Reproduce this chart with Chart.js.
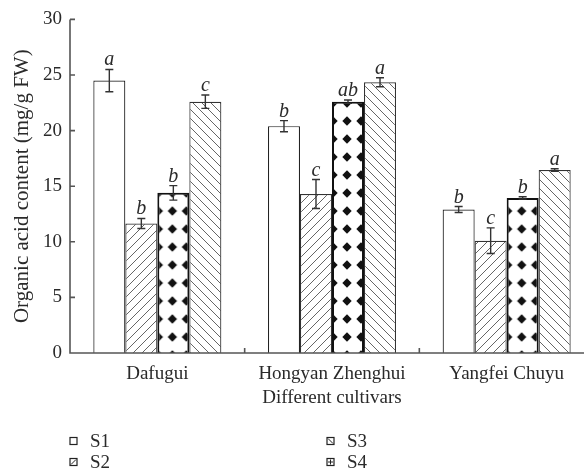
<!DOCTYPE html>
<html>
<head>
<meta charset="utf-8">
<script src="https://cdn.jsdelivr.net/npm/chart.js@4.4.1/dist/chart.umd.min.js"></script>
<style>
  html, body { margin: 0; padding: 0; background: #fff; overflow: hidden; }
  #wrap { width: 584px; height: 475px; overflow: hidden; }
  #chart { display: block; }
</style>
</head>
<body>
<div id="wrap"><canvas id="chart" width="594" height="475"></canvas></div>
<script>
// Organic acid content per cultivar and treatment
const cultivars = ['Dafugui', 'Hongyan Zhenghui', 'Yangfei Chuyu'];
const seriesNames = ['S1', 'S2', 'S3', 'S4'];

const s1 = [24.5, 20.4, 12.9];
const s2 = [11.65, 14.3, 10.1];
const s3 = [14.4, 22.6, 13.95];
const s4 = [22.6, 24.35, 16.45];

const s1Err = [1.0, 0.5, 0.27];
const s2Err = [0.45, 1.3, 1.15];
const s3Err = [0.65, 0.15, 0.1];
const s4Err = [0.6, 0.4, 0.12];

const s1Sig = ['a', 'b', 'b'];
const s2Sig = ['b', 'c', 'c'];
const s3Sig = ['b', 'ab', 'b'];
const s4Sig = ['c', 'a', 'a'];

const yTicks = [0, 5, 10, 15, 20, 25, 30];

const SERIF = '"Liberation Serif", "DejaVu Serif", serif';
const INK = '#2a2a2a';
const AXIS = '#555';

// --- fill patterns ---------------------------------------------------------
function tileCanvas(w, h, draw) {
  const c = document.createElement('canvas');
  c.width = w; c.height = h;
  const ctx = c.getContext('2d');
  ctx.fillStyle = '#fff';
  ctx.fillRect(0, 0, w, h);
  draw(ctx, w, h);
  return c;
}

function hatch(forward) {
  const c = tileCanvas(9, 9, (ctx, s) => {
    ctx.strokeStyle = '#666';
    ctx.lineWidth = 1;
    ctx.beginPath();
    if (forward) {
      ctx.moveTo(-1, s + 1); ctx.lineTo(s + 1, -1);
      ctx.moveTo(-1, 1);     ctx.lineTo(1, -1);
      ctx.moveTo(s - 1, s + 1); ctx.lineTo(s + 1, s - 1);
    } else {
      ctx.moveTo(-1, -1); ctx.lineTo(s + 1, s + 1);
      ctx.moveTo(s - 1, -1); ctx.lineTo(s + 1, 1);
      ctx.moveTo(-1, s - 1); ctx.lineTo(1, s + 1);
    }
    ctx.stroke();
  });
  return c.getContext('2d').createPattern(c, 'repeat');
}

const DIA_W = 14, DIA_H = 18;
const diamondTile = tileCanvas(DIA_W, DIA_H, (ctx, w, h) => {
  ctx.fillStyle = '#111';
  const cx = w / 2, cy = h / 2, r = 4.7;
  ctx.beginPath();
  ctx.moveTo(cx, cy - r); ctx.lineTo(cx + r, cy);
  ctx.lineTo(cx, cy + r); ctx.lineTo(cx - r, cy);
  ctx.closePath();
  ctx.fill();
});

// one diamond pattern per bar, shifted so a half diamond sits on the left edge
function diamondFill(context) {
  const pat = diamondTile.getContext('2d').createPattern(diamondTile, 'repeat');
  const xs = context.chart.scales.x;
  if (xs && context.dataIndex !== undefined && pat.setTransform) {
    const left = xs.getPixelForValue(context.dataIndex); // third bar starts at the group centre
    pat.setTransform(new DOMMatrix().translate(left + 1 - DIA_W / 2, 4));
  }
  return pat;
}

const fills = ['#ffffff', hatch(true), diamondFill, hatch(false)];
const borders = ['#222', '#333', '#111', '#333'];
const borderWidths = [1.2, 1.2, 2, 1.2];
const legendMarks = ['none', 'slash', 'backslash', 'plus'];

const values = [s1, s2, s3, s4];
const errors = [s1Err, s2Err, s3Err, s4Err];
const letters = [s1Sig, s2Sig, s3Sig, s4Sig];

// --- error bars and significance letters -----------------------------------
const errorBars = {
  id: 'errorBars',
  afterDatasetsDraw(chart) {
    const { ctx } = chart;
    const y = chart.scales.y;
    ctx.save();
    chart.data.datasets.forEach((ds, di) => {
      const meta = chart.getDatasetMeta(di);
      meta.data.forEach((bar, i) => {
        const v = ds.data[i], e = ds.errors[i];
        const top = y.getPixelForValue(v + e);
        const bot = y.getPixelForValue(v - e);
        ctx.strokeStyle = '#333';
        ctx.lineWidth = 1.4;
        ctx.beginPath();
        ctx.moveTo(bar.x, top); ctx.lineTo(bar.x, bot);
        ctx.moveTo(bar.x - 4, top); ctx.lineTo(bar.x + 4, top);
        ctx.moveTo(bar.x - 4, bot); ctx.lineTo(bar.x + 4, bot);
        ctx.stroke();

        ctx.fillStyle = INK;
        ctx.font = 'italic 20px ' + SERIF;
        ctx.textAlign = 'center';
        ctx.textBaseline = 'alphabetic';
        ctx.fillText(ds.letters[i], bar.x, top - 4);
      });
    });
    ctx.restore();
  }
};

// --- axis lines with inward ticks ------------------------------------------
const frame = {
  id: 'frame',
  afterDraw(chart) {
    const { ctx, chartArea: a } = chart;
    const x = chart.scales.x, y = chart.scales.y;
    ctx.save();
    ctx.strokeStyle = AXIS;
    ctx.lineWidth = 1.6;
    ctx.beginPath();
    ctx.moveTo(a.left, a.top); ctx.lineTo(a.left, a.bottom);
    ctx.lineTo(chart.width, a.bottom);
    y.ticks.forEach(t => {
      const py = y.getPixelForValue(t.value);
      ctx.moveTo(a.left, py); ctx.lineTo(a.left + 5, py);
    });
    for (let i = 1; i < cultivars.length; i++) {
      const px = (x.getPixelForValue(i - 1) + x.getPixelForValue(i)) / 2;
      ctx.moveTo(px, a.bottom); ctx.lineTo(px, a.bottom - 5);
    }
    ctx.stroke();
    ctx.restore();
  }
};

// --- two-column legend under the axis --------------------------------------
const legendGrid = {
  id: 'legendGrid',
  afterDraw(chart) {
    const { ctx } = chart;
    const cols = [70, 327];
    const rows = [441, 462];
    ctx.save();
    chart.data.datasets.forEach((ds, i) => {
      const bx = cols[Math.floor(i / 2)];
      const by = rows[i % 2] - 3.5;
      const s = 7;
      ctx.fillStyle = '#fff';
      ctx.fillRect(bx, by, s, s);
      ctx.strokeStyle = '#222';
      ctx.lineWidth = 1.2;
      ctx.strokeRect(bx, by, s, s);
      ctx.lineWidth = 1;
      ctx.beginPath();
      const m = legendMarks[i];
      if (m === 'slash') { ctx.moveTo(bx + 1, by + s - 1); ctx.lineTo(bx + s - 1, by + 1); }
      if (m === 'backslash') { ctx.moveTo(bx + 1, by + 1); ctx.lineTo(bx + s - 1, by + s - 1); }
      if (m === 'plus') {
        ctx.moveTo(bx + s / 2, by + 1); ctx.lineTo(bx + s / 2, by + s - 1);
        ctx.moveTo(bx + 1, by + s / 2); ctx.lineTo(bx + s - 1, by + s / 2);
      }
      ctx.stroke();
      ctx.fillStyle = INK;
      ctx.font = '19px ' + SERIF;
      ctx.textAlign = 'left';
      ctx.textBaseline = 'middle';
      ctx.fillText(ds.label, bx + 20, rows[i % 2] + 1);
    });
    ctx.restore();
  }
};

new Chart(document.getElementById('chart'), {
  type: 'bar',
  data: {
    labels: cultivars,
    datasets: seriesNames.map((name, k) => ({
      label: name,
      data: values[k],
      errors: errors[k],
      letters: letters[k],
      backgroundColor: fills[k],
      borderColor: borders[k],
      borderWidth: borderWidths[k],
      borderSkipped: 'bottom',
      categoryPercentage: 0.733,
      barPercentage: 1.0,
    })),
  },
  options: {
    responsive: false,
    animation: false,
    layout: { padding: { top: 12, right: 0, bottom: 66, left: 0 } },
    plugins: {
      legend: { display: false },
      tooltip: { enabled: false },
    },
    scales: {
      x: {
        grid: { display: false, drawTicks: false },
        border: { display: false },
        ticks: { color: INK, font: { family: SERIF, size: 19 }, padding: 10, maxRotation: 0 },
        title: {
          display: true,
          text: 'Different cultivars',
          color: INK,
          font: { family: SERIF, size: 19 },
          padding: { top: 0, bottom: 0 },
        },
        afterFit(scale) { scale.height = 56; },
      },
      y: {
        min: 0,
        max: 30,
        afterBuildTicks(scale) { scale.ticks = yTicks.map(v => ({ value: v })); },
        grid: { display: false, drawTicks: false },
        border: { display: false },
        ticks: { color: INK, font: { family: SERIF, size: 19 }, padding: 8 },
        title: {
          display: true,
          text: 'Organic acid content (mg/g FW)',
          color: INK,
          font: { family: SERIF, size: 21 },
          padding: { top: 10, bottom: 0 },
        },
        afterFit(scale) { scale.width = 70; },
      },
    },
  },
  plugins: [errorBars, frame, legendGrid],
});
</script>
</body>
</html>
